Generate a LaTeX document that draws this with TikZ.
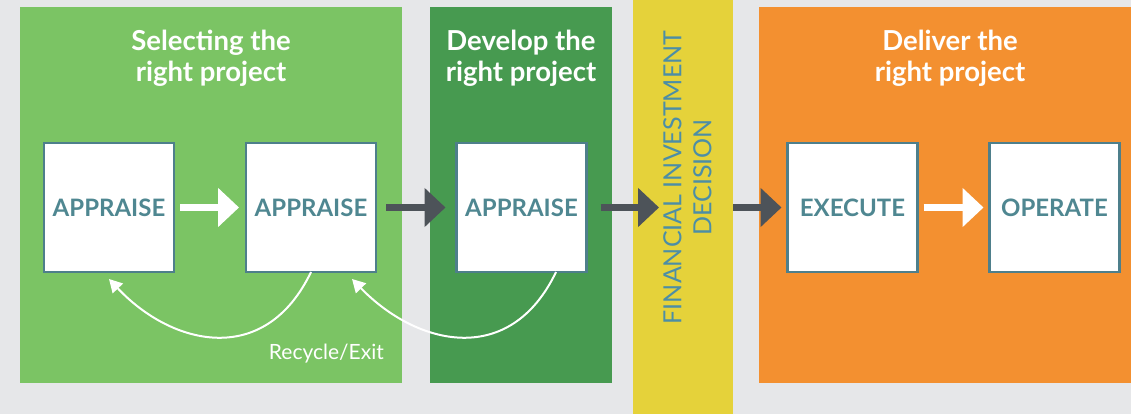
\documentclass[tikz,border=0pt]{standalone}
\usepackage{fontspec}
\setmainfont{Lato}
\usetikzlibrary{arrows.meta}
\definecolor{bg}{HTML}{E6E7E9}
\definecolor{lgreen}{HTML}{7BC464}
\definecolor{dgreen}{HTML}{479A50}
\definecolor{fidyellow}{HTML}{E5D23A}
\definecolor{dorange}{HTML}{F39030}
\definecolor{boxline}{HTML}{4E7F8B}
\definecolor{boxtext}{HTML}{4F8791}
\definecolor{fidtext}{HTML}{4C8EA6}
\definecolor{darrow}{HTML}{4D5359}
\tikzset{
  panel/.style={inner sep=0pt, outer sep=0pt, minimum height=376pt},
  title/.style={text=white, font=\bfseries\fontsize{27.5}{31}\selectfont, align=center, inner sep=0pt},
  stagebox/.style={draw=boxline, line width=2.5pt, fill=white, minimum width=130pt, minimum height=129pt,
    inner sep=0pt, outer sep=0pt, text=boxtext, font=\bfseries\fontsize{24}{28}\selectfont},
  whitearrow/.style={draw=white, line width=7pt, -{Triangle[width=38pt,length=21pt]}},
  darkarrow/.style={draw=darrow, line width=7.5pt, -{Triangle[width=38pt,length=21pt]}},
  recycle/.style={draw=white, line width=2pt, -{Triangle[width=14pt,length=13pt]}},
}
\begin{document}
\begin{tikzpicture}[x=1pt,y=-1pt]
\fill[bg] (0,0) rectangle (1131,414);
\useasboundingbox (0,0) rectangle (1131,414);
% panels
\node[panel, fill=lgreen, minimum width=382pt] (p1) at (211,195) {};
\node[panel, fill=dgreen, minimum width=182pt] (p2) at (521,195) {};
\node[panel, fill=fidyellow, minimum width=100pt, minimum height=414pt] (band) at (683,207) {};
\node[panel, fill=dorange, minimum width=372pt] (p3) at (945,195) {};
% titles
\node[title] (t1) at (211,58) {Selecting the\\right project};
\node[title] (t2) at (521,58) {Develop the\\right project};
\node[title] (t3) at (950,58) {Deliver the\\right project};
% decision text
\node[rotate=90, align=center, inner sep=0pt, text=fidtext, font=\fontsize{25}{30}\selectfont] (fid) at (687.5,177.5) {FINANCIAL INVESTMENT\\DECISION};
% boxes
\node[stagebox] (b1) at (109,207.5) {APPRAISE};
\node[stagebox] (b2) at (311,207.5) {APPRAISE};
\node[stagebox] (b3) at (521.5,207.5) {APPRAISE};
\node[stagebox] (b4) at (852.5,207.5) {EXECUTE};
\node[stagebox] (b5) at (1054.5,207.5) {OPERATE};
% straight arrows
\draw[whitearrow, shorten <=6pt, shorten >=7pt] (b1.east) -- (b2.west);
\draw[darkarrow, shorten <=10pt, shorten >=11pt] (b2.east) -- (b3.west);
\draw[darkarrow, shorten <=14pt] (b3.east) -- ([xshift=26pt]band.west |- b3.east);
\draw[darkarrow, shorten >=6pt] (band.east |- b4.west) -- (b4.west);
\draw[whitearrow, shorten <=6pt, shorten >=6pt] (b4.east) -- (b5.west);
% recycle arrows
\draw[recycle] (b2.south) .. controls (265,368) and (172,346) .. ([yshift=-7pt]b1.south);
\draw[recycle] ([xshift=34.5pt]b3.south) .. controls (510,368) and (417,346) .. ([xshift=41pt,yshift=-7pt]b2.south);
\node[anchor=base east, inner sep=0pt, text=white, font=\fontsize{21}{25}\selectfont] (rx) at (384,359) {Recycle/Exit};
\end{tikzpicture}
\end{document}
